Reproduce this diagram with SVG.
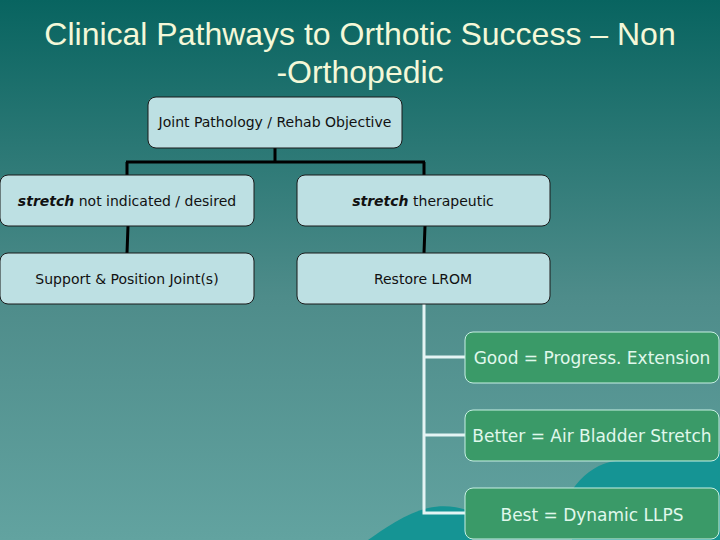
<svg xmlns="http://www.w3.org/2000/svg" width="720" height="540" viewBox="0 0 720 540">
<defs>
<linearGradient id="bg" x1="0" y1="0" x2="0" y2="1">
<stop offset="0" stop-color="#086460"/>
<stop offset="0.55" stop-color="#4e8c8a"/>
<stop offset="1" stop-color="#62a3a0"/>
</linearGradient>
<style>
.title{font-family:"Liberation Sans",Arial,sans-serif;font-size:32px;fill:#f4f8d8;text-anchor:middle}
.bn{fill:#bde0e3;stroke:#1a1a1a;stroke-width:1}
.bt{font-family:"DejaVu Sans",Verdana,sans-serif;font-size:14px;fill:#111;text-anchor:middle}
.gn{fill:#3a9a68;stroke:#c8f0e4;stroke-width:1}
.gt{font-family:"DejaVu Sans",Verdana,sans-serif;font-size:17px;fill:#e0f8ec;text-anchor:middle}
.dk{stroke:#000;stroke-width:3;fill:none}
.lt{stroke:#e4f4f4;stroke-width:3;fill:none}
</style>
</defs>
<rect width="720" height="540" fill="url(#bg)"/>
<g id="decor" fill="#159494">
<path d="M368 540 C385 528 405 514 428 508 C445 504 460 507 472 512 L472 540 Z"/>
<path d="M572 490 C582 476 594 466 610 462 C640 457 690 455 720 451 L720 540 L572 540 Z"/>
</g>
<text class="title" x="360" y="45">Clinical Pathways to Orthotic Success – Non</text>
<text class="title" x="360" y="83">-Orthopedic</text>
<g id="connectors">
<path class="dk" d="M275 148 V162 M126 162 H425 M127 162 V175 M424 162 V175 M128 226 L127 253 M425 226 L424 253"/>
<path class="lt" d="M424 304 V513 H465 M424 357 H465 M424 435 H465"/>
</g>
<g id="root"><rect class="bn" x="148" y="97" width="254" height="51" rx="8"/><text class="bt" x="275" y="127" font-size="12.8">Joint Pathology / Rehab Objective</text></g>
<g id="left1"><rect class="bn" x="0" y="175" width="254" height="51" rx="8"/><text class="bt" x="127" y="206"><tspan font-weight="bold" font-style="italic">stretch</tspan> not indicated / desired</text></g>
<g id="right1"><rect class="bn" x="297" y="175" width="253" height="51" rx="8"/><text class="bt" x="423" y="206"><tspan font-weight="bold" font-style="italic">stretch</tspan> therapeutic</text></g>
<g id="left2"><rect class="bn" x="0" y="253" width="254" height="51" rx="8"/><text class="bt" x="127" y="284">Support &amp; Position Joint(s)</text></g>
<g id="right2"><rect class="bn" x="297" y="253" width="253" height="51" rx="8"/><text class="bt" x="423" y="284">Restore LROM</text></g>
<g id="good"><rect class="gn" x="465" y="332" width="254" height="51" rx="8"/><text class="gt" x="592" y="364">Good = Progress. Extension</text></g>
<g id="better"><rect class="gn" x="465" y="410" width="254" height="51" rx="8"/><text class="gt" x="592" y="442">Better = Air Bladder Stretch</text></g>
<g id="best"><rect class="gn" x="465" y="488" width="254" height="51" rx="8"/><text class="gt" x="592" y="521">Best = Dynamic LLPS</text></g>
</svg>
